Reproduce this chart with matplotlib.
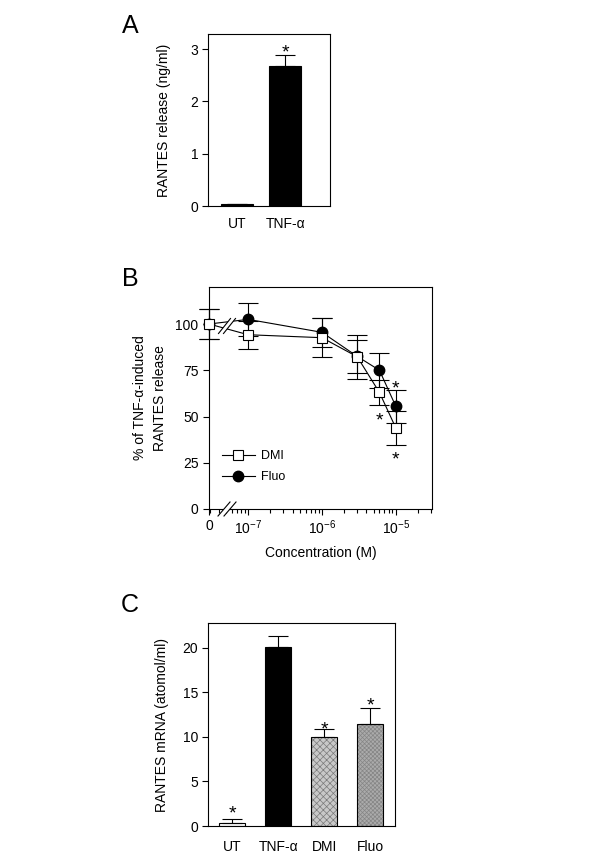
import matplotlib
matplotlib.use("Agg")
import matplotlib.pyplot as plt
import numpy as np
from matplotlib.patches import Polygon
from matplotlib.lines import Line2D

plt.rcParams['font.family'] = ['Liberation Sans', 'DejaVu Sans']
plt.rcParams['mathtext.fontset'] = 'custom'
plt.rcParams['mathtext.rm'] = 'Liberation Sans'
plt.rcParams['mathtext.it'] = 'Liberation Sans:italic'
plt.rcParams['mathtext.default'] = 'regular'
plt.rcParams['axes.linewidth'] = 0.8
plt.rcParams['hatch.linewidth'] = 0.5

# ---------------- data ----------------
# Panel A
a_cats = ["UT", "TNF-α"]
a_vals = [0.03, 2.68]
a_errs = [0.0, 0.20]
a_star = [None, 3.05]

# Panel B
b_conc = [0, 1e-7, 1e-6, 3e-6, 6e-6, 1e-5]
b_dmi = [100, 94.2, 92.6, 82.3, 63.0, 43.8]
b_dmi_err = [8.0, 7.5, 10.5, 12.0, 7.0, 9.0]
b_fluo = [100, 102.5, 95.5, 82.5, 75.0, 55.5]
b_fluo_err = [8.0, 9.0, 8.0, 9.0, 9.5, 9.0]
b_stars_conc = [6e-6, 1e-5, 1e-5]
b_stars_val = [51.0, 68.5, 30.0]
b_xticklabels = ["0", "$10^{-7}$", "$10^{-6}$", "$10^{-5}$"]

# Panel C
c_cats = ["UT", "TNF-α", "DMI", "Fluo"]
c_vals = [0.37, 20.1, 10.0, 11.5]
c_errs = [0.45, 1.2, 0.9, 1.8]
c_stars = [2.1, None, 11.6, 14.2]

W, H = 600, 867
fig = plt.figure(figsize=(6, 8.67), dpi=100)

def fax(l, t, r, b):
    return fig.add_axes([l / W, 1 - b / H, (r - l) / W, (b - t) / H])

def star(ax, x, y, fs=14):
    ax.annotate('*', xy=(x, y), xytext=(0, -0.58 * fs), textcoords='offset points',
                ha='center', va='baseline', fontsize=fs, annotation_clip=False)

# ---------------- Panel A ----------------
axA = fax(208, 34, 330, 206)
xa = np.arange(len(a_cats))
axA.bar(xa, a_vals, width=0.65, color='black', edgecolor='black', linewidth=0.8)
axA.errorbar(xa, a_vals, yerr=[np.zeros(len(a_errs)), a_errs], fmt='none',
             ecolor='black', elinewidth=0.8, capsize=7, capthick=0.8)
for x, s in zip(xa, a_star):
    if s is not None:
        star(axA, x, s)
axA.set_xlim(-0.6, 1.93)
axA.set_ylim(0, 3.29)
axA.set_yticks([0, 1, 2, 3])
axA.set_xticks(xa)
axA.set_xticklabels(a_cats)
axA.tick_params(axis='x', length=0, pad=8, labelsize=10)
axA.tick_params(axis='y', direction='out', length=4, width=0.8, labelsize=10, pad=3)
axA.set_ylabel("RANTES release (ng/ml)", fontsize=10, labelpad=14)
fig.text(130 / W, 1 - 26 / H, "A", fontsize=18, ha='center', va='center')

# ---------------- Panel B ----------------
axB = fax(209, 287, 432, 509)
x0 = 10 ** -7.53
xpos = [x0 if c == 0 else c for c in b_conc]
axB.set_xscale('log')
axB.set_xlim(x0, 10 ** -4.51)
axB.set_ylim(0, 120)
axB.errorbar(xpos, b_dmi, yerr=b_dmi_err, fmt='none', ecolor='black',
             elinewidth=0.8, capsize=7, capthick=0.8, clip_on=False, zorder=2)
axB.errorbar(xpos, b_fluo, yerr=b_fluo_err, fmt='none', ecolor='black',
             elinewidth=0.8, capsize=7, capthick=0.8, clip_on=False, zorder=2)
lf, = axB.plot(xpos, b_fluo, '-o', color='black', markersize=7.5, lw=0.8,
               markerfacecolor='black', markeredgecolor='black', clip_on=False, zorder=3)
ld, = axB.plot(xpos, b_dmi, '-s', color='black', markersize=7.5, lw=0.8,
               markerfacecolor='white', markeredgecolor='black', mew=0.8,
               clip_on=False, zorder=4)
for c, v in zip(b_stars_conc, b_stars_val):
    star(axB, c, v)

axB.set_xticks([x0, 1e-7, 1e-6, 1e-5])
axB.set_xticklabels(b_xticklabels)
axB.set_yticks([0, 25, 50, 75, 100])
axB.tick_params(axis='both', which='major', direction='out', length=4, width=0.8,
                labelsize=10)
axB.tick_params(axis='x', which='minor', direction='out', length=3, width=0.8)
axB.tick_params(axis='x', which='major', pad=3)
axB.set_xlabel("Concentration (M)", fontsize=10, labelpad=6)
axB.set_ylabel("% of TNF-α-induced\nRANTES release", fontsize=10, labelpad=6,
               linespacing=1.55)

axB.legend([ld, lf], ["DMI", "Fluo"], loc='upper left', frameon=False,
           bbox_to_anchor=(0.02, 0.305), fontsize=9, handlelength=2.6,
           labelspacing=0.75, handletextpad=0.5, borderaxespad=0.3)

# break marks (pixel -> axes fraction)
AW, AH = 223.0, 222.0
def brk(cx, cy, dx, dy, gap):
    fx = lambda px: (px - 209) / AW
    fy = lambda py: (509 - py) / AH
    s1 = [(cx - gap / 2 - dx / 2, cy + dy / 2), (cx - gap / 2 + dx / 2, cy - dy / 2)]
    s2 = [(cx + gap / 2 - dx / 2, cy + dy / 2), (cx + gap / 2 + dx / 2, cy - dy / 2)]
    poly = [s1[0], s1[1], s2[1], s2[0]]
    axB.add_patch(Polygon([(fx(p[0]), fy(p[1])) for p in poly], closed=True,
                          transform=axB.transAxes, facecolor='white',
                          edgecolor='none', clip_on=False, zorder=5))
    for s in (s1, s2):
        axB.add_line(Line2D([fx(s[0][0]), fx(s[1][0])], [fy(s[0][1]), fy(s[1][1])],
                            transform=axB.transAxes, color='black', lw=0.8,
                            clip_on=False, zorder=6))

brk(227, 326, 12, 15, 5)
brk(227, 509, 12, 14, 6)

fig.text(130 / W, 1 - 279 / H, "B", fontsize=18, ha='center', va='center')

# ---------------- Panel C ----------------
axC = fax(208, 623, 395, 826)
xc = np.arange(len(c_cats))
faces = ['white', 'black', '#c8c8c8', '#ababab']
hatch_cols = [None, None, '#7a7a7a', '#858585']
hatches = [None, None, 'xxxxx', 'xxxxxxxx']
for x, v, fcol, hc, h in zip(xc, c_vals, faces, hatch_cols, hatches):
    if h is not None:
        axC.bar(x, v, width=0.57, color=fcol, edgecolor=hc, linewidth=0, hatch=h)
        axC.bar(x, v, width=0.57, fill=False, edgecolor='black', linewidth=0.8)
    else:
        axC.bar(x, v, width=0.57, color=fcol, edgecolor='black', linewidth=0.8)
axC.errorbar(xc, c_vals, yerr=[np.zeros(len(c_errs)), c_errs], fmt='none',
             ecolor='black', elinewidth=0.8, capsize=7, capthick=0.8)
for x, s in zip(xc, c_stars):
    if s is not None:
        star(axC, x, s)
axC.set_xlim(-0.53, 3.54)
axC.set_ylim(0, 22.8)
axC.set_yticks([0, 5, 10, 15, 20])
axC.set_xticks(xc)
axC.set_xticklabels(c_cats)
axC.tick_params(axis='x', length=0, pad=10, labelsize=10)
axC.tick_params(axis='y', direction='out', length=4, width=0.8, labelsize=10, pad=3)
axC.set_ylabel("RANTES mRNA (atomol/ml)", fontsize=10, labelpad=10)
fig.text(130 / W, 1 - 605 / H, "C", fontsize=18, ha='center', va='center')

fig.savefig("out.png", dpi=100)
